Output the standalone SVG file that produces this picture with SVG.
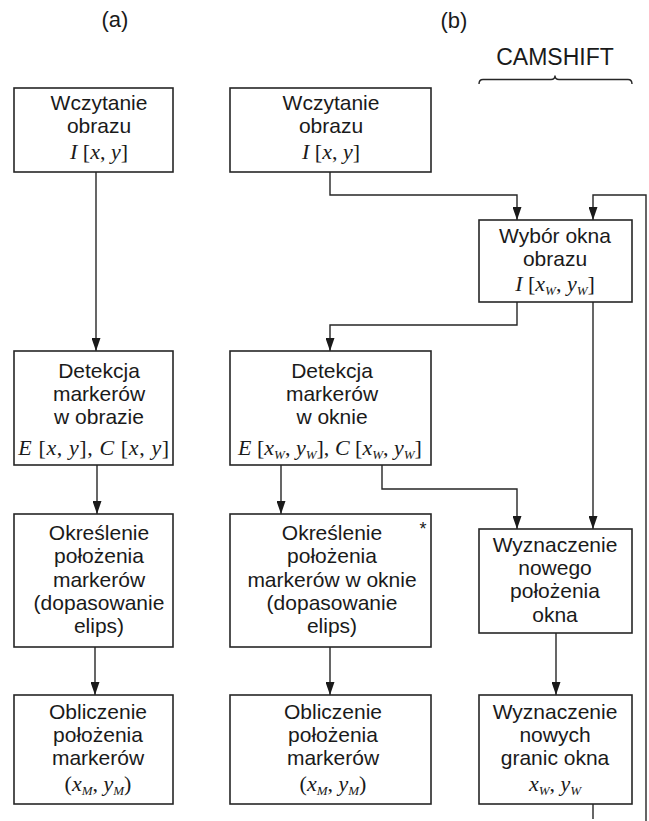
<svg xmlns="http://www.w3.org/2000/svg" width="649" height="821" viewBox="0 0 649 821">
<style>
  .bg{fill:#ffffff}
  .box{fill:#ffffff;stroke:#262626;stroke-width:1.6}
  .ln{fill:none;stroke:#262626;stroke-width:1.4}
  .t{font-family:"Liberation Sans",Arial,sans-serif;font-size:21px;fill:#1a1a1a;text-anchor:middle}
  .m{font-family:"Liberation Serif","Times New Roman",serif;font-size:22px;fill:#1a1a1a;text-anchor:middle}
  .i{font-style:italic}
  .s{font-style:italic;font-size:13px}
  .h{font-family:"Liberation Sans",Arial,sans-serif;font-size:22px;fill:#1a1a1a;text-anchor:middle}
</style>
<defs>
  <marker id="arr" markerUnits="userSpaceOnUse" markerWidth="13" markerHeight="9" refX="13" refY="4.5" orient="auto">
    <path d="M0,0 L13,4.5 L0,9 z" fill="#1a1a1a"/>
  </marker>
</defs>
<rect class="bg" x="0" y="0" width="649" height="821"/>

<g id="titles">
  <text class="h" x="115" y="27">(a)</text>
  <text class="h" x="454" y="28">(b)</text>
  <text class="h" x="555" y="65" style="font-size:23px">CAMSHIFT</text>
  <path class="ln" d="M479,84 Q479,79.5 483,79.5 L551,79.5 Q555,79.5 555,75.5 Q555,79.5 559,79.5 L628,79.5 Q632,79.5 632,84"/>
</g>

<g id="connectors">
  <path class="ln" d="M96,172 L96,351" marker-end="url(#arr)"/>
  <path class="ln" d="M97,465 L97,514" marker-end="url(#arr)"/>
  <path class="ln" d="M95,647 L95,695" marker-end="url(#arr)"/>
  <path class="ln" d="M330,172 L330,195 L517,195 L517,220" marker-end="url(#arr)"/>
  <path class="ln" d="M646,821 L646,195 L593,195 L593,220" marker-end="url(#arr)"/>
  <path class="ln" d="M517,302 L517,325 L330,325 L330,351" marker-end="url(#arr)"/>
  <path class="ln" d="M593,302 L593,529" marker-end="url(#arr)"/>
  <path class="ln" d="M281,465 L281,514" marker-end="url(#arr)"/>
  <path class="ln" d="M382,465 L382,489 L517,489 L517,529" marker-end="url(#arr)"/>
  <path class="ln" d="M330,647 L330,695" marker-end="url(#arr)"/>
  <path class="ln" d="M556,633 L556,695" marker-end="url(#arr)"/>
  <path class="ln" d="M593,804 L593,819"/>
</g>

<g id="a1">
  <rect class="box" x="14" y="88" width="159" height="84"/>
  <text class="t" x="99" y="110">Wczytanie</text>
  <text class="t" x="99" y="133">obrazu</text>
  <text class="m" x="99" y="159"><tspan class="i">I</tspan> [<tspan class="i">x</tspan>, <tspan class="i">y</tspan>]</text>
</g>

<g id="b1">
  <rect class="box" x="230" y="88" width="201" height="84"/>
  <text class="t" x="331" y="110">Wczytanie</text>
  <text class="t" x="331" y="133">obrazu</text>
  <text class="m" x="331" y="159"><tspan class="i">I</tspan> [<tspan class="i">x</tspan>, <tspan class="i">y</tspan>]</text>
</g>

<g id="c1">
  <rect class="box" x="479" y="220" width="153" height="82"/>
  <text class="t" x="555" y="243">Wybór okna</text>
  <text class="t" x="555" y="266">obrazu</text>
  <text class="m" x="555" y="291"><tspan class="i">I</tspan> [<tspan class="i">x</tspan><tspan class="s" dy="4">W</tspan><tspan dy="-4">, </tspan><tspan class="i">y</tspan><tspan class="s" dy="4">W</tspan><tspan dy="-4">]</tspan></text>
</g>

<g id="a2">
  <rect class="box" x="14" y="351" width="159" height="114"/>
  <text class="t" x="99" y="378">Detekcja</text>
  <text class="t" x="99" y="401">markerów</text>
  <text class="t" x="99" y="424">w obrazie</text>
  <text class="m" x="94" y="455" style="letter-spacing:0.6px"><tspan class="i">E</tspan> [<tspan class="i">x</tspan>, <tspan class="i">y</tspan>], <tspan class="i">C</tspan> [<tspan class="i">x</tspan>, <tspan class="i">y</tspan>]</text>
</g>

<g id="b2">
  <rect class="box" x="230" y="351" width="201" height="114"/>
  <text class="t" x="332" y="378">Detekcja</text>
  <text class="t" x="332" y="401">markerów</text>
  <text class="t" x="332" y="424">w oknie</text>
  <text class="m" x="330" y="455"><tspan class="i">E</tspan> [<tspan class="i">x</tspan><tspan class="s" dy="4">W</tspan><tspan dy="-4">, </tspan><tspan class="i">y</tspan><tspan class="s" dy="4">W</tspan><tspan dy="-4">], </tspan><tspan class="i">C</tspan> [<tspan class="i">x</tspan><tspan class="s" dy="4">W</tspan><tspan dy="-4">, </tspan><tspan class="i">y</tspan><tspan class="s" dy="4">W</tspan><tspan dy="-4">]</tspan></text>
</g>

<g id="a3">
  <rect class="box" x="14" y="514" width="159" height="133"/>
  <text class="t" x="99" y="540">Określenie</text>
  <text class="t" x="99" y="563">położenia</text>
  <text class="t" x="99" y="587">markerów</text>
  <text class="t" x="99" y="610">(dopasowanie</text>
  <text class="t" x="99" y="633">elips)</text>
</g>

<g id="b3">
  <rect class="box" x="230" y="514" width="201" height="133"/>
  <text class="t" x="332" y="540">Określenie</text>
  <text class="t" x="332" y="563">położenia</text>
  <text class="t" x="332" y="587">markerów w oknie</text>
  <text class="t" x="332" y="610">(dopasowanie</text>
  <text class="t" x="332" y="633">elips)</text>
  <text class="t" x="423" y="535" style="font-size:18px">*</text>
</g>

<g id="c3">
  <rect class="box" x="479" y="529" width="153" height="104"/>
  <text class="t" x="555" y="552">Wyznaczenie</text>
  <text class="t" x="555" y="575">nowego</text>
  <text class="t" x="555" y="598">położenia</text>
  <text class="t" x="555" y="622">okna</text>
</g>

<g id="a4">
  <rect class="box" x="14" y="695" width="159" height="109"/>
  <text class="t" x="98" y="719">Obliczenie</text>
  <text class="t" x="98" y="742">położenia</text>
  <text class="t" x="98" y="765">markerów</text>
  <text class="m" x="98" y="791">(<tspan class="i">x</tspan><tspan class="s" dy="4">M</tspan><tspan dy="-4">, </tspan><tspan class="i">y</tspan><tspan class="s" dy="4">M</tspan><tspan dy="-4">)</tspan></text>
</g>

<g id="b4">
  <rect class="box" x="230" y="695" width="201" height="109"/>
  <text class="t" x="333" y="719">Obliczenie</text>
  <text class="t" x="333" y="742">położenia</text>
  <text class="t" x="333" y="765">markerów</text>
  <text class="m" x="333" y="791">(<tspan class="i">x</tspan><tspan class="s" dy="4">M</tspan><tspan dy="-4">, </tspan><tspan class="i">y</tspan><tspan class="s" dy="4">M</tspan><tspan dy="-4">)</tspan></text>
</g>

<g id="c4">
  <rect class="box" x="479" y="695" width="153" height="109"/>
  <text class="t" x="555" y="719">Wyznaczenie</text>
  <text class="t" x="555" y="742">nowych</text>
  <text class="t" x="555" y="765">granic okna</text>
  <text class="m" x="555" y="791"><tspan class="i">x</tspan><tspan class="s" dy="4">W</tspan><tspan dy="-4">, </tspan><tspan class="i">y</tspan><tspan class="s" dy="4">W</tspan></text>
</g>
</svg>
